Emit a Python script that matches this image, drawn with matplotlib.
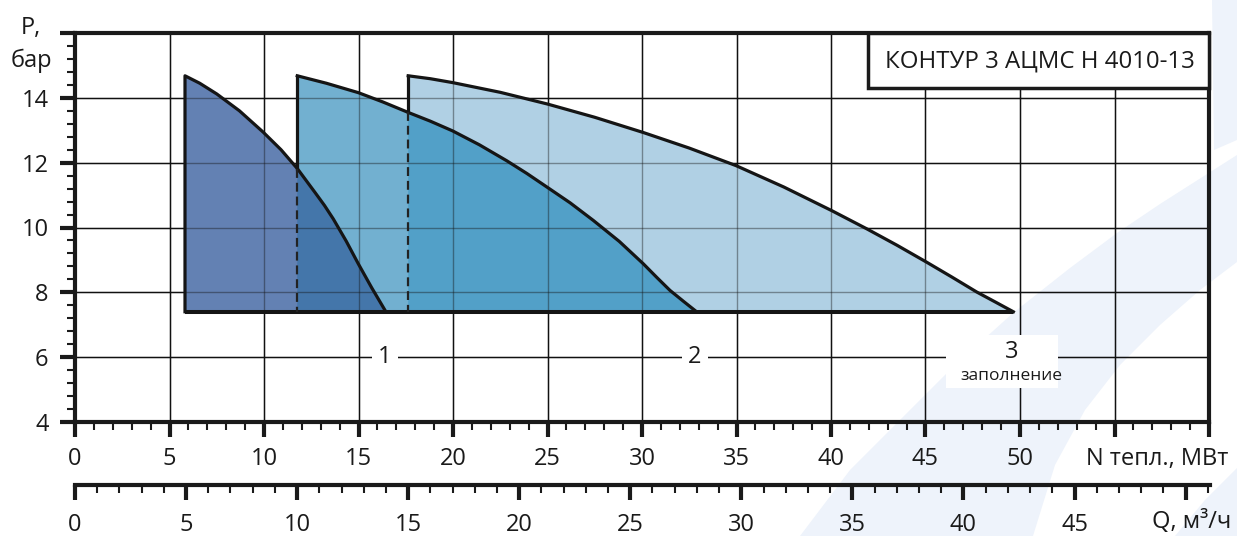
import numpy as np
import matplotlib
matplotlib.use("Agg")
import matplotlib.pyplot as plt
from matplotlib.patches import Polygon, Rectangle
from matplotlib.ticker import MultipleLocator

plt.rcParams['font.family'] = ['Open Sans', 'DejaVu Sans']

# ---------------- data (N тепл., МВт vs P, бар) ----------------
base_p = 7.4

r1_n = [5.82, 6.6, 7.50, 8.7, 9.96, 10.9, 11.76, 12.7, 13.2, 13.66, 14.35, 14.99, 15.7, 16.45]
r1_p = [14.68, 14.45, 14.12, 13.6, 12.94, 12.4, 11.82, 11.08, 10.68, 10.27, 9.58, 8.88, 8.14, 7.40]

r2_n = [11.76, 13.3, 14.99, 16.3, 17.63, 18.8, 19.98, 21.4, 22.84, 23.9, 24.99, 26.2,
        27.42, 28.8, 30.07, 30.8, 31.48, 32.2, 32.89]
r2_p = [14.68, 14.45, 14.16, 13.87, 13.55, 13.28, 12.98, 12.55, 12.06, 11.67, 11.24, 10.76,
        10.22, 9.57, 8.88, 8.45, 8.06, 7.72, 7.40]

r3_n = [17.63, 18.8, 19.98, 22.5, 24.99, 27.5, 30.07, 32.5, 34.97, 37.5, 40.04, 41.89,
        43.5, 45.06, 46.4, 47.71, 48.7, 49.65]
r3_p = [14.68, 14.59, 14.47, 14.17, 13.81, 13.40, 12.93, 12.45, 11.91, 11.25, 10.52, 9.96,
        9.45, 8.93, 8.47, 8.01, 7.70, 7.40]

# junctions where the left edges turn dashed
junction_n = [11.76, 17.63]
junction_p = [11.82, 13.55]

region_labels = ['1', '2']
region_label_n = [16.4, 32.8]
region_label_p = 6.0

fill_colors = ['#6381b3', '#72b0d0', '#b0d0e4']
overlap_colors = ['#4476aa', '#52a0c8']

n_ticks = list(range(0, 61, 5))
n_labels = [str(v) for v in range(0, 51, 5)] + ['', '']
q_ticks = list(range(0, 51, 5))
q_labels = [str(v) for v in range(0, 46, 5)] + ['']
p_ticks = list(range(4, 17, 2))
p_labels = [str(v) for v in range(4, 15, 2)] + ['']

title_text = 'КОНТУР 3 АЦМС Н 4010-13'
n_axis_label = 'N тепл., МВт'
q_axis_label = 'Q, м³/ч'

N_MAX = 60.0
Q_MAX = 51.1

W, H = 1237, 536
fig = plt.figure(figsize=(W / 100, H / 100), dpi=100)
fig.patch.set_facecolor('white')

# ---------------- watermark (decorative) ----------------
pale = '#eef3fb'
def px_poly(pts, **kw):
    pts = np.array(pts, dtype=float)
    pts[:, 0] /= W
    pts[:, 1] = 1 - pts[:, 1] / H
    p = Polygon(pts, closed=True, transform=fig.transFigure, **kw)
    fig.patches.append(p)

px_poly([(800, 536), (850, 470), (900, 420), (953, 367), (1013, 313), (1070, 268),
         (1117, 233), (1160, 204), (1193, 183), (1237, 155), (1237, 262), (1200, 290),
         (1160, 325), (1120, 365), (1085, 410), (1055, 465), (1033, 536)],
        facecolor=pale, edgecolor='none', zorder=-5)
px_poly([(1175, 536), (1205, 500), (1237, 468), (1237, 536)],
        facecolor=pale, edgecolor='none', zorder=-5)
px_poly([(1212, 0), (1237, 0), (1237, 140), (1214, 150)],
        facecolor=pale, edgecolor='none', zorder=-5)

# ---------------- main axes ----------------
ax = fig.add_axes([75 / W, 114 / H, (1209 - 75) / W, (422 - 33) / H])
ax.set_facecolor('none')
ax.set_xlim(0, N_MAX)
ax.set_ylim(4, 16)

for s in ax.spines.values():
    s.set_linewidth(3)
    s.set_color('#1a1a1a')

ax.set_xticks(n_ticks, labels=n_labels)
ax.set_yticks(p_ticks, labels=p_labels)
ax.xaxis.set_minor_locator(MultipleLocator(1))
ax.yaxis.set_minor_locator(MultipleLocator(0.4))
ax.tick_params(axis='both', which='major', direction='out', length=11, width=3,
               color='#1a1a1a', labelsize=17, labelcolor='#1a1a1a')
ax.tick_params(axis='x', which='major', pad=7)
ax.tick_params(axis='y', which='major', pad=8)
ax.tick_params(axis='both', which='minor', direction='out', length=6, width=1.5,
               color='#1a1a1a')

ax.set_axisbelow(True)
ax.grid(True, which='major', color='#111111', linewidth=1.0)

# regions
def region_vertices(ns, ps):
    return [(ns[0], base_p)] + list(zip(ns, ps)) + [(ns[-1], base_p)]

polys = []
for ns, ps, c in zip([r1_n, r2_n, r3_n], [r1_p, r2_p, r3_p], fill_colors):
    p = Polygon(region_vertices(ns, ps), closed=True, facecolor=c, edgecolor='none', zorder=1)
    polys.append(p)

ax.add_patch(polys[2])
ax.add_patch(polys[1])
ax.add_patch(polys[0])

ov12 = Polygon(region_vertices(r1_n, r1_p), closed=True, facecolor=overlap_colors[0],
               edgecolor='none', zorder=1.1)
ax.add_patch(ov12)
ov12.set_clip_path(polys[1])
ov23 = Polygon(region_vertices(r2_n, r2_p), closed=True, facecolor=overlap_colors[1],
               edgecolor='none', zorder=1.1)
ax.add_patch(ov23)
ov23.set_clip_path(polys[2])

# grid seen through the fills
for v in n_ticks[1:-1]:
    ax.axvline(v, color='#111111', linewidth=1.0, alpha=0.4, zorder=1.5)
for v in p_ticks[1:-1]:
    ax.axhline(v, color='#111111', linewidth=1.0, alpha=0.4, zorder=1.5)

# outlines
lc = '#151515'
lw = 2.3
ax.plot([r1_n[0]] + r1_n, [base_p] + r1_p, color=lc, lw=lw, zorder=3,
        solid_joinstyle='round')
ax.plot(r2_n, r2_p, color=lc, lw=lw, zorder=3, solid_joinstyle='round')
ax.plot(r3_n, r3_p, color=lc, lw=lw, zorder=3, solid_joinstyle='round')
ax.plot([r1_n[0], r3_n[-1]], [base_p, base_p], color=lc, lw=lw + 0.6, zorder=3,
        solid_capstyle='butt')
for jn, jp, tp in zip(junction_n, junction_p, [r2_p[0], r3_p[0]]):
    ax.plot([jn, jn], [tp, jp], color=lc, lw=lw, zorder=3)
    ax.plot([jn, jn], [jp, base_p], color='#222222', lw=1.6, zorder=3,
            linestyle=(0, (4, 2.2)))

# region labels
for t, xn in zip(region_labels, region_label_n):
    ax.text(xn, region_label_p, t, ha='center', va='center', fontsize=17, color='#1a1a1a',
            zorder=4, bbox=dict(boxstyle='square,pad=0.25', facecolor='white', edgecolor='none'))

ax.add_patch(Rectangle((46.1, 5.04), 5.9, 1.64, facecolor='white', edgecolor='none', zorder=4))
ax.text(49.55, 6.16, '3', ha='center', va='center', fontsize=17, color='#1a1a1a', zorder=5)
ax.text(49.55, 5.42, 'заполнение', ha='center', va='center', fontsize=12.5, color='#1a1a1a',
        zorder=5)

# title box
ax.add_patch(Rectangle((0.699, 0.8586), 0.301, 0.1414, transform=ax.transAxes,
                       facecolor='white', edgecolor='#1a1a1a', linewidth=2.5, zorder=6,
                       clip_on=False))
ax.text(0.851, 0.926, title_text, transform=ax.transAxes, ha='center', va='center',
        fontsize=17.3, color='#1a1a1a', zorder=7)

# axis labels
fig.text(31 / W, 1 - 34 / H, 'P,', ha='center', va='baseline', fontsize=17, color='#1a1a1a')
fig.text(31 / W, 1 - 67 / H, 'бар', ha='center', va='baseline', fontsize=17, color='#1a1a1a')
fig.text(1228 / W, 1 - 465 / H, n_axis_label, ha='right', va='baseline', fontsize=17,
         color='#1a1a1a')

# ---------------- Q axis ----------------
ax2 = fig.add_axes([75 / W, (536 - 485) / H, (1210 - 75) / W, 0.001])
ax2.set_facecolor('none')
ax2.set_xlim(0, Q_MAX)
ax2.set_ylim(0, 1)
for k in ['top', 'left', 'right']:
    ax2.spines[k].set_visible(False)
ax2.spines['bottom'].set_linewidth(3)
ax2.spines['bottom'].set_color('#1a1a1a')
ax2.set_yticks([])
ax2.set_xticks(q_ticks, labels=q_labels)
ax2.xaxis.set_minor_locator(MultipleLocator(1))
ax2.tick_params(axis='x', which='major', direction='out', length=11, width=3, color='#1a1a1a',
                labelsize=17, labelcolor='#1a1a1a', pad=9)
ax2.tick_params(axis='x', which='minor', direction='out', length=6, width=1.5, color='#1a1a1a')
fig.text(1231 / W, 1 - 528 / H, q_axis_label, ha='right', va='baseline', fontsize=17,
         color='#1a1a1a')

fig.savefig('out.png', dpi=100)
